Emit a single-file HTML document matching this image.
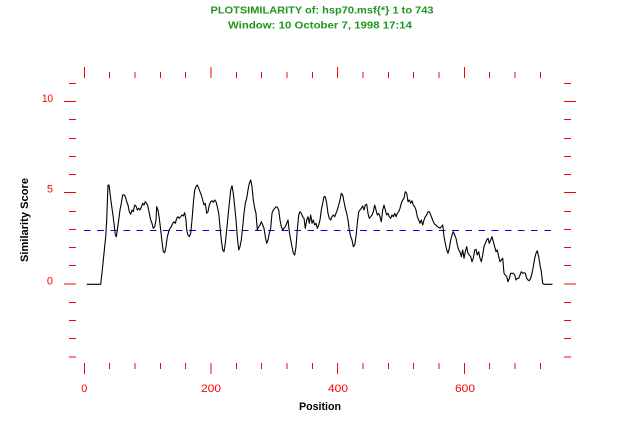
<!DOCTYPE html>
<html><head><meta charset="utf-8"><style>
html,body{margin:0;padding:0;background:#fff;}
svg{display:block;}
</style></head><body>
<svg width="640" height="428" viewBox="0 0 640 428" xmlns="http://www.w3.org/2000/svg">
<rect width="640" height="428" fill="#fff"/>
<g font-family="Liberation Sans, Arial, sans-serif" fill="#1e961e" font-weight="bold" font-size="10">
<text x="322" y="13.5" text-anchor="middle" textLength="223" lengthAdjust="spacingAndGlyphs">PLOTSIMILARITY of: hsp70.msf{*}  1 to 743</text>
<text x="320" y="28.5" text-anchor="middle" textLength="184" lengthAdjust="spacingAndGlyphs">Window: 10  October 7, 1998 17:14</text>
</g>
<g stroke="#ff0000" stroke-width="1" shape-rendering="crispEdges" fill="none">
<path d="M64 101.5H76M64 192.5H76M64 284H76"/>
<path d="M69 83.5H76M69 119.5H76M69 138.5H76M69 156.5H76M69 174.5H76M69 211.5H76M69 229.5H76M69 247.5H76M69 265.5H76M69 302.5H76M69 320.5H76M69 338.5H76M69 357H76"/>
<path d="M564 101.5H576M564 192.5H576M564 284H576"/>
<path d="M564 83.5H571M564 119.5H571M564 138.5H571M564 156.5H571M564 174.5H571M564 211.5H571M564 229.5H571M564 247.5H571M564 265.5H571M564 302.5H571M564 320.5H571M564 338.5H571M564 357H571"/>
<path d="M84.3 67V78M210.9 67V78M337.6 67V78M464.3 67V78"/>
<path d="M109.6 72V78M135 72V78M160.3 72V78M185.6 72V78M236.3 72V78M261.6 72V78M286.9 72V78M312.3 72V78M362.9 72V78M388.3 72V78M413.6 72V78M438.9 72V78M489.6 72V78M514.9 72V78M540.3 72V78"/>
<path d="M84.3 363V374M210.9 363V374M337.6 363V374M464.3 363V374"/>
<path d="M109.6 363V369M135 363V369M160.3 363V369M185.6 363V369M236.3 363V369M261.6 363V369M286.9 363V369M312.3 363V369M362.9 363V369M388.3 363V369M413.6 363V369M438.9 363V369M489.6 363V369M514.9 363V369M540.3 363V369"/>
</g>
<g font-family="Liberation Sans, Arial, sans-serif" fill="#ff0000" font-size="11">
<text x="53" y="102" text-anchor="end" textLength="11" lengthAdjust="spacingAndGlyphs">10</text>
<text x="53" y="192.5" text-anchor="end">5</text>
<text x="53" y="284.5" text-anchor="end">0</text>
<text x="84.3" y="392" text-anchor="middle">0</text>
<text x="211" y="392" text-anchor="middle" textLength="20" lengthAdjust="spacingAndGlyphs">200</text>
<text x="338" y="392" text-anchor="middle" textLength="20" lengthAdjust="spacingAndGlyphs">400</text>
<text x="465" y="392" text-anchor="middle" textLength="20" lengthAdjust="spacingAndGlyphs">600</text>
</g>
<g font-family="Liberation Sans, Arial, sans-serif" fill="#000" font-weight="bold" font-size="11">
<text x="320" y="410" text-anchor="middle" textLength="42" lengthAdjust="spacingAndGlyphs">Position</text>
<text transform="translate(28,220) rotate(-90)" x="0" y="0" text-anchor="middle" textLength="84" lengthAdjust="spacingAndGlyphs">Similarity Score</text>
</g>
<path d="M84 230.5H551" stroke="#0000ff" stroke-width="1" stroke-dasharray="6.6 6.55" fill="none" shape-rendering="crispEdges"/>
<polyline fill="none" stroke="#000" stroke-width="1.1" stroke-linejoin="round" points="
86.7,284.3 100.7,284.3 102.3,270 104,253.3 105.7,236.7 106.7,220 107.3,203.3 108,185.3 109,185 110,193.3 111.3,203.3 112.7,213.3 114,223.3 115.3,235 116.3,236.7 117.3,230 118.7,220 120,210 121.3,203.3 122.7,195 124,194.7 125.3,196.7 126.7,201.7 128,205 129.3,211.7 130.7,214.3 132,210 133.3,211.7 134.7,205 136,206 137.3,210 138.7,208.3 140,210 141.3,207.3 142.7,203.3 144,205 145.3,201.7 146.7,203.3 148,206.7 149.3,213.3 150.7,220 152,223.3 153.3,228.3 154.7,226.7 156,220 156.7,206.7 158,210 159.3,218.3 160.7,230 162,241.7 163.3,251.7 164.7,252.7 166,246.7 167.3,236.7 168.7,231.7 170,228.3 171.3,226.7 172.7,223.3 174,221.7 175.3,223.3 176.7,218.3 178,216.7 179.3,218.3 180.7,216.7 182,215 183.3,216 184.7,212.7 186,220 186.7,230 188,235 189.3,236.7 190.7,233.3 192,220 193.3,203.3 194.7,190 196,186.7 197.3,185 198.7,188.3 200,191.7
201.3,195 202.7,200 204,205 205.3,203.3 206.7,213.3 208,211.7 209.3,205 210.7,201.7 212,200.7 213.3,202.3 214.7,200 216,201.7 217.3,206.7 218.7,213.3 220,226.7 221.3,240 222.7,250 224,251.7 225.3,243.3 226.7,230 228,216.7 229.3,203.3 230.7,190 232,185.7 233.3,193.3 234.7,206.7 236,220 237.3,236.7 238.7,250 240,246.7 241.3,240 242.7,226.7 244,213.3 245.3,203.3 246.7,198.3 248,190 249.3,183.3 250.7,180 252,186.7 253.3,200 254.7,208.3 256,213.3 257.3,230 258.7,226.7 260,225 261.3,221.7 262.7,225 264,228.3 265.3,236.7 266.7,243.3 268,240 269.3,233.3 270.7,228.3 272,213.3 273.3,210 274.7,208.3 276,206.7 277.3,207.3 278.7,210 280,220 281.3,226.7 282.7,230 284,228.3 285.3,226.7 286.7,223.3 288,220 289.3,231.7 290.7,240 292,246.7 293.3,253.3 294.7,255 296,246.7 297.3,230 298.7,215 300,211.7 301.3,213.3 302.7,216.7 304,218.3 305.3,228.3 306.7,220 308,216.7 309.3,223.3 310.7,215 312,223.3 313.3,220 314.7,225 316,223.3 317.3,228.3 318.7,225
320,220 321.3,210 322.7,203.3 324,196.7 325.3,196.7 326.7,203.3 328,213.3 329.3,218.3 330.7,220 332,216.7 333.3,215 334.7,216.7 336,213.3 337.3,210 338.7,205 340,200 341.3,193.3 342.7,195 344,201.7 345.3,208.3 346.7,213.3 348,220 349.3,230 350.7,236.7 352,240 353.3,246.7 354.7,245 356,236.7 357.3,223.3 358.7,211.7 360,210 361.3,208.3 362.7,206 364,210 365.3,205 366.7,204.3 368,213.3 369.3,218.3 370.7,216.7 372,215 373.3,211.7 374.7,205 376,210 377.3,215 378.7,213.3 380,216.7 381.3,221.7 382.7,210 384,205 385.3,210 386.7,215 388,213.3 389.3,216.7 390.7,218.3 392,215 393.3,216.7 394.7,213.3 396,216.7 397.3,213.3 398.7,211.7 400,208.3 401.3,203.3 402.7,200 404,198.3 405.3,191.7 406.7,193.3 408,201.7 409.3,200 410.7,203.3 412,200.7 413.3,205 414.7,206.7 416,210 417.3,216.7 418.7,220 420,223.3 421.3,220 422.7,225 424,220 425.3,216.7 426.7,215 428,211.7 429.3,211.7 430.7,215 432,218.3 433.3,221.7 434.7,224.3 436,225
437.3,226.7 438.7,227.3 440,228.3 441.3,226.7 442.7,225 443.3,230 444,236.7 445.3,243.3 446.7,250 448,253.3 449.3,248.3 450.7,240 452,235 453.3,231.7 454.7,235 456,238.3 457.3,245 458.7,250 460,251.7 461.3,256.7 462.7,250 464,258.3 465.3,251.7 466.7,246.7 468,253.3 469.3,255 470.7,256.7 472,261.7 473.3,258.3 474.7,250 476,249.3 477.3,255 478.7,251.7 480,258.3 481.3,261.7 482.7,255 484,246.7 485.3,243.3 486.7,240 488,238.3 489.3,243.3 490.7,240 492,236.7 493.3,241.7 494.7,246.7 496,251.7 497.3,250 498.7,256.7 500,261.7 501.3,260 502.7,258.3 504,273.3 505.3,275 506.7,276.7 508,281.7 509.3,278.3 510.7,273.3 512,273.3 513.3,273.3 514.7,275 516,280 517.3,278.3 518.7,278.3 520,275 521.3,271.7 522.7,273.3 524,272.7 525.3,273.3 526.7,278.3 528,280 529.3,280.7 530.7,278.3 532,273.3 533.3,266.7 534.7,258.3 536,253.3 537.3,250.7 538.7,256.7 540,265 541.3,271.7 542.7,283.3 544,284.3 552.5,284.3"/>
</svg>
</body></html>
